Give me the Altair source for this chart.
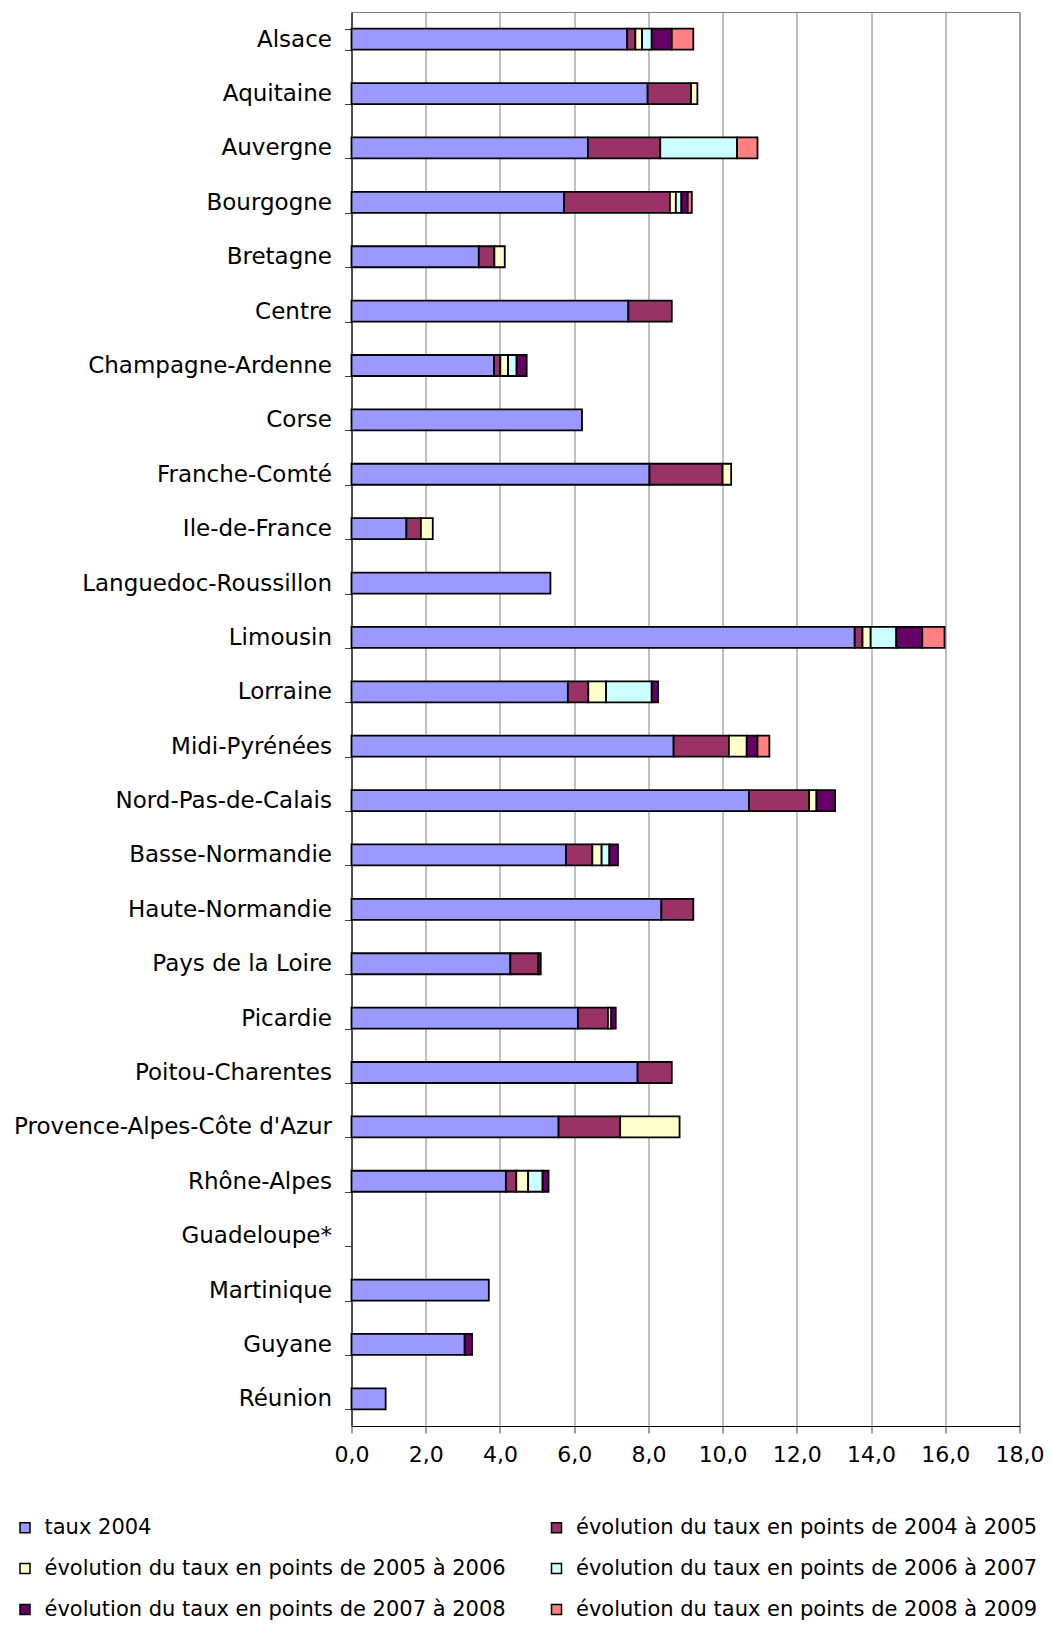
import altair as alt
import pandas as pd

regions = ["Alsace", "Aquitaine", "Auvergne", "Bourgogne", "Bretagne", "Centre",
           "Champagne-Ardenne", "Corse", "Franche-Comté", "Ile-de-France",
           "Languedoc-Roussillon", "Limousin", "Lorraine", "Midi-Pyrénées",
           "Nord-Pas-de-Calais", "Basse-Normandie", "Haute-Normandie",
           "Pays de la Loire", "Picardie", "Poitou-Charentes",
           "Provence-Alpes-Côte d'Azur", "Rhône-Alpes", "Guadeloupe*",
           "Martinique", "Guyane", "Réunion"]

taux_2004 = [7.43, 7.98, 6.37, 5.73, 3.43, 7.46, 3.84, 6.21, 8.03, 1.48, 5.36, 13.56,
             5.83, 8.68, 10.71, 5.78, 8.35, 4.28, 6.10, 7.71, 5.58, 4.16, 0.0, 3.70, 3.05, 0.92]
evo_2004_2005 = [0.22, 1.17, 1.95, 2.85, 0.42, 1.17, 0.17, 0.0, 1.97, 0.39, 0.0, 0.21,
                 0.55, 1.49, 1.62, 0.71, 0.86, 0.75, 0.81, 0.92, 1.66, 0.28, 0.0, 0.0, 0.0, 0.0]
evo_2005_2006 = [0.18, 0.17, 0.0, 0.16, 0.28, 0.0, 0.21, 0.0, 0.23, 0.32, 0.0, 0.22,
                 0.48, 0.48, 0.20, 0.25, 0.0, 0.0, 0.09, 0.0, 1.60, 0.32, 0.0, 0.0, 0.0, 0.0]
evo_2006_2007 = [0.26, 0.0, 2.07, 0.15, 0.0, 0.0, 0.23, 0.0, 0.0, 0.0, 0.0, 0.69,
                 1.23, 0.0, 0.0, 0.21, 0.0, 0.0, 0.0, 0.0, 0.0, 0.39, 0.0, 0.0, 0.0, 0.0]
evo_2007_2008 = [0.54, 0.0, 0.0, 0.17, 0.0, 0.0, 0.27, 0.0, 0.0, 0.0, 0.0, 0.70,
                 0.17, 0.29, 0.50, 0.23, 0.0, 0.07, 0.12, 0.0, 0.0, 0.16, 0.0, 0.0, 0.20, 0.0]
evo_2008_2009 = [0.58, 0.0, 0.55, 0.11, 0.0, 0.0, 0.0, 0.0, 0.0, 0.0, 0.0, 0.60,
                 0.0, 0.32, 0.0, 0.0, 0.0, 0.0, 0.0, 0.0, 0.0, 0.0, 0.0, 0.0, 0.0, 0.0]

series_names = ["taux 2004",
                "évolution du taux en points de 2004 à 2005",
                "évolution du taux en points de 2005 à 2006",
                "évolution du taux en points de 2006 à 2007",
                "évolution du taux en points de 2007 à 2008",
                "évolution du taux en points de 2008 à 2009"]
series_colors = ["#9999FF", "#993366", "#FFFFCC", "#CCFFFF", "#660066", "#FF8080"]
x_ticks = [0, 2, 4, 6, 8, 10, 12, 14, 16, 18]

series_values = [taux_2004, evo_2004_2005, evo_2005_2006, evo_2006_2007,
                 evo_2007_2008, evo_2008_2009]

rows = []
for si, (name, vals) in enumerate(zip(series_names, series_values)):
    for r, v in zip(regions, vals):
        if v > 0:
            rows.append({"region": r, "serie": name, "value": v, "idx": si})
df = pd.DataFrame(rows)

FONT = "DejaVu Sans"

chart = alt.Chart(df).mark_bar(stroke="black", strokeWidth=1.8).encode(
    y=alt.Y("region:N", sort=regions, title=None,
            scale=alt.Scale(domain=regions, paddingInner=0.614, paddingOuter=0.307),
            axis=alt.Axis(labelFont=FONT, labelFontSize=23, labelColor="black",
                          tickBand="extent", tickSize=7, tickColor="#404040",
                          domainColor="black", labelPadding=13, labelLimit=400)),
    x=alt.X("value:Q", stack="zero", title=None,
            scale=alt.Scale(domain=[0, 18], nice=False),
            axis=alt.Axis(values=x_ticks,
                          labelExpr="replace(format(datum.value, '.1f'), '.', ',')",
                          labelFont=FONT, labelFontSize=22, labelColor="black",
                          tickSize=7, tickColor="#404040", domainColor="black",
                          gridColor="#808080", gridWidth=1, labelPadding=11,
                          labelFlush=False)),
    color=alt.Color("serie:N",
                    scale=alt.Scale(domain=series_names, range=series_colors),
                    legend=alt.Legend(title=None, orient="none", columns=2,
                                      direction="horizontal", padding=0,
                                      legendX=-337, legendY=1505,
                                      labelFont=FONT, labelFontSize=21,
                                      labelColor="black",
                                      symbolType="square", symbolSize=100,
                                      symbolStrokeColor="black",
                                      symbolStrokeWidth=1.5, symbolOpacity=1,
                                      labelOffset=9, columnPadding=39.5,
                                      rowPadding=19, labelLimit=600)),
    order=alt.Order("idx:Q"),
).properties(
    width=668, height=1414,
    autosize=alt.AutoSizeParams(type="none"),
    padding={"left": 343.5, "top": 4, "right": 24.5, "bottom": 194},
).configure_view(stroke="#808080", strokeWidth=1)

chart.save("out.html", embed_options={"renderer": "svg", "actions": False})
